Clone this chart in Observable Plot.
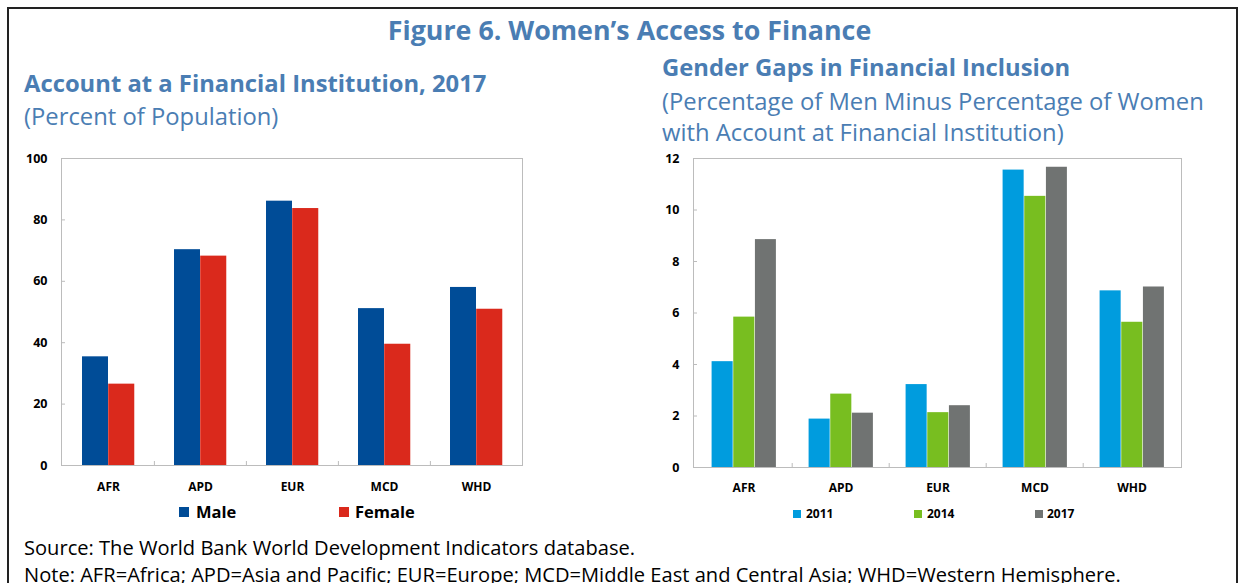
<!DOCTYPE html>
<html><head><meta charset="utf-8">
<script src="https://cdn.jsdelivr.net/npm/d3@7"></script>
<script src="https://cdn.jsdelivr.net/npm/@observablehq/plot@0.6"></script>
<style>
body{margin:0;background:#fff;}
#root{position:relative;width:1243px;height:583px;overflow:hidden;font-family:"Open Sans",sans-serif;background:#fff;}
.abs{position:absolute;white-space:nowrap;}
.blue{color:#4a7db3;}
.sw{position:absolute;}
#border{position:absolute;left:7px;top:7px;width:1231px;height:600px;border:2px solid #222;box-sizing:border-box;}
</style></head><body><div id="root"><div id="border"></div></div>
<script>
const regions = ["AFR","APD","EUR","MCD","WHD"];
const male = [35.4,70.3,86.1,51.1,58.0];
const female = [26.5,68.2,83.7,39.5,50.9];
const years = ["2011","2014","2017"];
const gap2011 = [4.11,1.88,3.22,11.55,6.86];
const gap2014 = [5.84,2.85,2.13,10.53,5.64];
const gap2017 = [8.85,2.11,2.40,11.66,7.01];
const leftTicks = [0,20,40,60,80,100];
const rightTicks = [0,2,4,6,8,10,12];
const genderColors = ["#004c97","#da291c"];
const yearColors = ["#009cde","#78be20","#707372"];

const root = document.getElementById("root");
function addText(txt, left, cy, size, weight, cls, lh) {
  const d = document.createElement("div");
  d.className = "abs " + (cls||"");
  d.textContent = txt;
  d.style.left = left + "px";
  d.style.top = (cy - lh/2) + "px";
  d.style.lineHeight = lh + "px";
  d.style.fontSize = size + "px";
  d.style.fontWeight = weight;
  root.appendChild(d);
  return d;
}
// Titles
const t = addText("Figure 6. Women’s Access to Finance", 0, 30, 26.8, 700, "blue", 34);
t.style.width = "1259px"; t.style.textAlign = "center";
addText("Account at a Financial Institution, 2017", 24, 83, 23.8, 700, "blue", 30);
addText("(Percent of Population)", 24, 116, 23.8, 400, "blue", 30);
addText("Gender Gaps in Financial Inclusion", 662, 67, 23.8, 700, "blue", 30);
addText("(Percentage of Men Minus Percentage of Women", 662, 101, 23.8, 400, "blue", 30);
addText("with Account at Financial Institution)", 662, 132, 23.8, 400, "blue", 30);
addText("Source: The World Bank World Development Indicators database.", 24, 548, 20.1, 400, "", 26);
addText("Note: AFR=Africa; APD=Asia and Pacific; EUR=Europe; MCD=Middle East and Central Asia; WHD=Western Hemisphere.", 24, 575, 20.1, 400, "", 26);

// Left chart
const leftData = regions.flatMap((r,i)=>[
  {region:r, series:"Male", value:male[i]},
  {region:r, series:"Female", value:female[i]}
]);
const lW = 560, lH = 360, lML = 61, lMR = 38;
const lBW = (lW - lML - lMR) / regions.length;
const left = Plot.plot({
  width: lW, height: lH,
  marginLeft: lML, marginRight: lMR, marginTop: 18, marginBottom: 35,
  style: {fontFamily: "'Open Sans', sans-serif", background: "transparent"},
  x: {domain: regions, padding: 0, axis: null, label: null},
  y: {domain: [0,100], axis: null, label: null},
  color: {domain: ["Male","Female"], range: genderColors},
  marks: [
    Plot.barY(leftData.filter(d=>d.series==="Male"), {x:"region", y:"value", fill:"series", insetLeft: lBW*0.217, insetRight: lBW*0.499}),
    Plot.barY(leftData.filter(d=>d.series==="Female"), {x:"region", y:"value", fill:"series", insetLeft: lBW*0.501, insetRight: lBW*0.214}),
    Plot.frame({stroke:"#bcbcbc"}),
    Plot.axisY({ticks: leftTicks, label: null, tickSize: -4, tickPadding: 18, stroke: "#bcbcbc", fill: "#000", fontWeight: "bold", fontSize: 12.5}),
    Plot.axisX({label: null, tickSize: 0, tickPadding: 17, fill: "#000", fontWeight: "bold", fontSize: 12}),
    Plot.axisX({ticks: regions.slice(1), label: null, tickSize: -4, dx: -lBW/2, stroke: "#bcbcbc", tickFormat: () => ""})
  ]
});
left.style.position = "absolute"; left.style.left = "0px"; left.style.top = "140px";
root.appendChild(left);

// Right chart
const rightData = regions.flatMap((r,i)=>[
  {region:r, year:"2011", value:gap2011[i]},
  {region:r, year:"2014", value:gap2014[i]},
  {region:r, year:"2017", value:gap2017[i]}
]);
const rW = 600, rH = 360, rML = 63, rMR = 49;
const rBW = (rW - rML - rMR) / regions.length;
const insets = [[0.170,0.608],[0.392,0.386],[0.614,0.165]];
const right = Plot.plot({
  width: rW, height: rH,
  marginLeft: rML, marginRight: rMR, marginTop: 18, marginBottom: 33,
  style: {fontFamily: "'Open Sans', sans-serif", background: "transparent"},
  x: {domain: regions, padding: 0, axis: null, label: null},
  y: {domain: [0,12], axis: null, label: null},
  color: {domain: years, range: yearColors},
  marks: [
    ...years.map((yr,k)=>Plot.barY(rightData.filter(d=>d.year===yr), {x:"region", y:"value", fill:"year", insetLeft: rBW*insets[k][0], insetRight: rBW*insets[k][1]})),
    Plot.frame({stroke:"#bcbcbc"}),
    Plot.axisY({ticks: rightTicks, label: null, tickSize: -4, tickPadding: 18, stroke: "#bcbcbc", fill: "#000", fontWeight: "bold", fontSize: 12.5}),
    Plot.axisX({label: null, tickSize: 0, tickPadding: 16, fill: "#000", fontWeight: "bold", fontSize: 12}),
    Plot.axisX({ticks: regions.slice(1), label: null, tickSize: -4, dx: -rBW/2, stroke: "#bcbcbc", tickFormat: () => ""})
  ]
});
right.style.position = "absolute"; right.style.left = "630px"; right.style.top = "140px";
root.appendChild(right);

// Legends
function legendItem(label, color, sqX, cy, sq, textX, size) {
  const s = document.createElement("div");
  s.className = "sw";
  s.style.left = sqX + "px"; s.style.top = (cy - sq/2) + "px";
  s.style.width = sq + "px"; s.style.height = sq + "px";
  s.style.background = color;
  root.appendChild(s);
  addText(label, textX, cy, size, 700, "", 20);
}
["Male","Female"].forEach((g,i)=>legendItem(g, genderColors[i], [179,339][i], 512, 10, [196,355][i], 16.5));
years.forEach((y,i)=>legendItem(y, yearColors[i], [793,914,1035][i], 514, 8, [806,927,1047][i], 12));
</script>
</body></html>
